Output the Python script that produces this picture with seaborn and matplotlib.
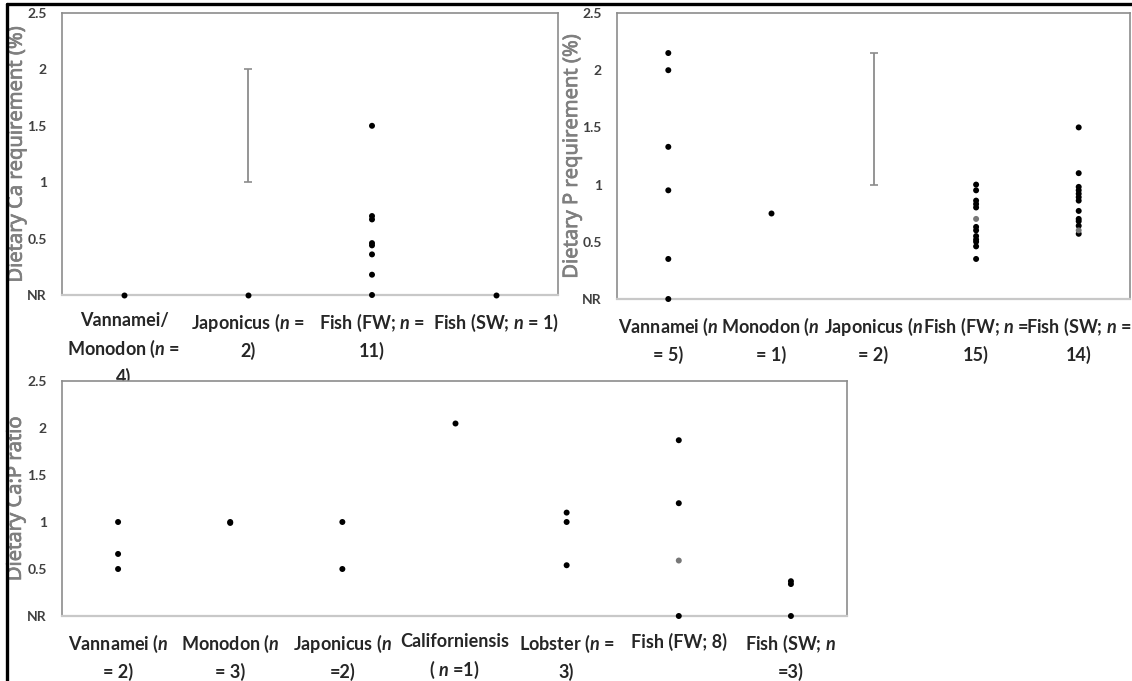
import matplotlib
matplotlib.use("Agg")
import matplotlib.pyplot as plt
import seaborn as sns
import pandas as pd
from matplotlib.lines import Line2D
from matplotlib import patheffects
from matplotlib.font_manager import findfont, FontProperties

sns.set_style("white")
plt.rcParams["font.family"] = ["Lato", "DejaVu Sans"]
plt.rcParams["mathtext.fontset"] = "custom"
plt.rcParams["mathtext.it"] = "Lato:italic:bold"
plt.rcParams["mathtext.rm"] = "Lato:bold"

# ---------------- data ----------------
y_ticks = [0, 0.5, 1, 1.5, 2, 2.5]
y_tick_labels = ["NR", "0.5", "1", "1.5", "2", "2.5"]

ca_categories = ["Vannamei/\nMonodon ($n$ =\n4)", "Japonicus ($n$ =\n2)",
                 "Fish (FW; $n$ =\n11)", "Fish (SW; $n$ = 1)"]
ca_values = [[0.0], [0.0], [1.50, 0.70, 0.67, 0.46, 0.44, 0.36, 0.18, 0.0], [0.0]]
ca_grey_values = [[], [], [], []]
ca_range_category = 1
ca_range = [1.0, 2.0]

p_categories = ["Vannamei ($n$\n= 5)", "Monodon ($n$\n= 1)", "Japonicus ($n$\n= 2)",
                "Fish (FW; $n$ =\n15)", "Fish (SW; $n$ =\n14)"]
p_values = [[2.15, 2.0, 1.33, 0.95, 0.35, 0.0],
            [0.75],
            [],
            [1.0, 0.95, 0.86, 0.83, 0.80, 0.63, 0.60, 0.55, 0.52, 0.50, 0.46, 0.35],
            [1.5, 1.1, 0.98, 0.95, 0.92, 0.89, 0.86, 0.77, 0.70, 0.68, 0.64, 0.57]]
p_grey_values = [[], [], [], [0.70], [0.60]]
p_range_category = 2
p_range = [1.0, 2.15]

ratio_categories = ["Vannamei ($n$\n= 2)", "Monodon ($n$\n= 3)", "Japonicus ($n$\n=2)",
                    "Californiensis\n( $n$ =1)", "Lobster ($n$ =\n3)", "Fish (FW; 8)",
                    "Fish (SW; $n$\n=3)"]
ratio_values = [[1.0, 0.66, 0.5], [1.0, 0.99], [1.0, 0.5], [2.05],
                [1.1, 1.0, 0.54], [1.87, 1.2, 0.0], [0.37, 0.34, 0.0]]
ratio_grey_values = [[], [], [], [], [], [0.59], []]

# ---------------- fonts: embolden if no real bold face ----------------
_bold_file = findfont(FontProperties(family="Lato", weight="bold")).lower()
HAS_BOLD = any(k in _bold_file for k in ("bold", "black", "heavy"))
X_EFFECT = [] if HAS_BOLD else [patheffects.withStroke(linewidth=0.9, foreground="black")]
Y_EFFECT = [] if HAS_BOLD else [patheffects.withStroke(linewidth=0.6, foreground="#404040")]
LABEL_EFFECT = [patheffects.withStroke(linewidth=0.5, foreground="#7f7f7f")]

# ---------------- figure ----------------
W, H = 1132, 681
fig = plt.figure(figsize=(W / 100, H / 100), dpi=100)


def px_axes(left, top, right, bottom):
    return fig.add_axes([left / W, 1 - bottom / H, (right - left) / W, (bottom - top) / H])


def panel(ax, cats, vals, greys, ylabel, label_x, rng_cat=None, rng=None):
    rows = []
    for c, vs, gs in zip(cats, vals, greys):
        rows += [(c, v, "black") for v in vs]
        rows += [(c, v, "grey") for v in gs]
    df = pd.DataFrame(rows, columns=["category", "value", "shade"])
    sns.stripplot(data=df, x="category", y="value", hue="shade", order=cats,
                  hue_order=["black", "grey"],
                  palette={"black": "black", "grey": "#777777"},
                  jitter=False, size=4.3, linewidth=0, legend=False, ax=ax, zorder=3)
    for coll in ax.collections:
        coll.set_clip_on(False)
    if rng_cat is not None:
        mid = (rng[0] + rng[1]) / 2
        half = (rng[1] - rng[0]) / 2
        ax.errorbar([rng_cat], [mid], yerr=[half], fmt="none", ecolor="#8c8c8c",
                    elinewidth=1.3, capsize=3, capthick=1.2, zorder=2)
    ax.set_xlim(-0.5, len(cats) - 0.5)
    ax.set_ylim(0, 2.5)
    ax.set_yticks(y_ticks)
    ax.set_yticklabels(y_tick_labels)
    ax.set_xlabel("")
    lab = ax.set_ylabel(ylabel, fontfamily=["Noto Sans", "DejaVu Sans"], fontsize=14.5,
                        color="#7f7f7f")
    lab.set_path_effects(LABEL_EFFECT)
    ax.yaxis.set_label_coords(label_x, 0.5)
    ax.tick_params(axis="x", length=0, pad=12.5, labelsize=13)
    ax.tick_params(axis="y", length=0, pad=11, labelsize=10, labelcolor="#404040")
    for t in ax.get_xticklabels():
        t.set_fontweight("bold")
        t.set_linespacing(1.5)
        t.set_path_effects(X_EFFECT)
    for t in ax.get_yticklabels():
        t.set_fontweight("bold")
        t.set_path_effects(Y_EFFECT)
    for s in ["top", "left", "right"]:
        ax.spines[s].set_color("#8c8c8c")
        ax.spines[s].set_linewidth(1.2)
    ax.spines["bottom"].set_color("#c8c8c8")
    ax.spines["bottom"].set_linewidth(1.6)


ax1 = px_axes(62, 13, 558, 295)
panel(ax1, ca_categories, ca_values, ca_grey_values, "Dietary Ca requirement (%)",
      -0.071, ca_range_category, ca_range)

ax2 = px_axes(617, 13, 1130, 299)
panel(ax2, p_categories, p_values, p_grey_values, "Dietary P requirement (%)",
      -0.068, p_range_category, p_range)

ax3 = px_axes(62, 381, 847, 616)
panel(ax3, ratio_categories, ratio_values, ratio_grey_values, "Dietary Ca:P ratio",
      -0.046)

# black frame lines of the composite image
fig.add_artist(Line2D([7 / W, 7 / W], [0, 1 - 4 / H], transform=fig.transFigure,
                      color="black", lw=2.4))
fig.add_artist(Line2D([7 / W, 1], [1 - 4 / H, 1 - 4 / H], transform=fig.transFigure,
                      color="black", lw=2.4))

fig.savefig("out.png", dpi=100)
